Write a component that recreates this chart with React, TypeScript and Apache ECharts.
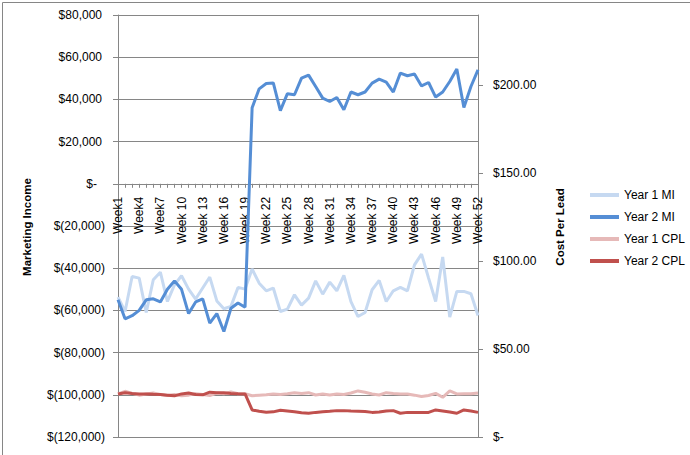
import React, { useEffect, useRef } from "react";
import * as echarts from "echarts";

const categories = [
  "Week1", "Week2", "Week3", "Week4", "Week5", "Week6", "Week7", "Week8", "Week9",
  "Week 10", "Week 11", "Week 12", "Week 13", "Week 14", "Week 15", "Week 16", "Week 17",
  "Week 18", "Week 19", "Week 20", "Week 21", "Week 22", "Week 23", "Week 24", "Week 25",
  "Week 26", "Week 27", "Week 28", "Week 29", "Week 30", "Week 31", "Week 32", "Week 33",
  "Week 34", "Week 35", "Week 36", "Week 37", "Week 38", "Week 39", "Week 40", "Week 41",
  "Week 42", "Week 43", "Week 44", "Week 45", "Week 46", "Week 47", "Week 48", "Week 49",
  "Week 50", "Week 51", "Week 52",
];

const year1MI = [
  -53700, -60500, -43900, -44700, -61000, -45500, -41900, -55800, -47900, -43600,
  -49900, -54600, -49400, -44200, -55500, -59200, -58100, -49100, -49900, -40400,
  -47100, -50700, -49400, -60500, -59400, -52600, -57500, -54200, -46000, -52300,
  -46600, -50700, -43400, -55800, -62900, -61000, -50200, -45800, -55800, -50700,
  -49100, -50700, -38400, -33300, -44700, -55800, -34700, -63200, -51000, -51000,
  -52100, -62400,
];

const year2MI = [
  -55000, -64000, -62500, -60000, -55000, -54500, -56000, -50000, -46000, -50000,
  -61500, -56000, -54500, -66000, -61500, -70000, -59000, -56500, -58500, 36000,
  45000, 47500, 47800, 34700, 42700, 42200, 50100, 51500, 46100, 40600,
  39000, 40900, 35100, 43500, 42200, 43500, 47700, 49600, 48200, 43500,
  52500, 51200, 52000, 46400, 48000, 41100, 43500, 48500, 54400, 36200,
  46100, 54000,
];

const year1CPL = [
  24.5, 26, 24.8, 23.8, 24.5, 25, 24.2, 23.6, 24.2, 23.4,
  23.8, 24.6, 24.2, 23.6, 25, 24.6, 25.6, 24.6, 24.6, 23.5,
  23.8, 24, 24.4, 24.2, 24.6, 25.2, 24.8, 25.2, 23.9, 24.5,
  23.9, 24.5, 24.2, 25, 26.2, 25.4, 24.5, 23.9, 25.2, 24.8,
  24.5, 24.5, 23.8, 23, 23.6, 24.8, 22.6, 26.2, 24.5, 24.6,
  24.6, 25,
];

const year2CPL = [
  24.5, 25.2, 24.8, 24.5, 24.5, 24.3, 24.2, 23.8, 23.4, 24.5,
  25, 24.2, 24, 25.5, 25.2, 25.2, 24.8, 24.6, 24.5, 15.4,
  14.6, 14.1, 14.3, 15.2, 14.8, 14.4, 13.8, 13.5, 14, 14.4,
  14.6, 15, 15, 14.8, 14.7, 14.5, 14, 14.2, 14.8, 15,
  13.5, 14, 14, 14, 14, 15.4, 14.8, 14.2, 13.5, 15.4,
  14.8, 14,
];

const cplTicks = [0, 50, 100, 150, 200];

const FONT = "'Liberation Sans', Arial, sans-serif";
const GRAY = "#868686";

const MI_MIN = -120000;
const MI_MAX = 80000;
const GRID_TOP = 15;
const GRID_BOTTOM = 18;
const PLOT_H = 455 - GRID_TOP - GRID_BOTTOM;

function fmtMI(v: number): string {
  if (v === 0) return "{z|$-}";
  const s = Math.abs(v).toLocaleString("en-US");
  if (v < 0) return "{n|$(" + s + ")}";
  return "{p|$" + s + "}";
}

function fmtCPL(v: number): string {
  if (v === 0) return "$-";
  return "$" + v.toFixed(2);
}

export default function App() {
  const ref = useRef<HTMLDivElement>(null);
  useEffect(() => {
    if (!ref.current) return;
    const chart = echarts.init(ref.current, null, { renderer: "svg" });
    const mk = (name: string, data: number[], color: string, axis: number) => ({
      name,
      type: "line",
      data,
      yAxisIndex: axis,
      symbol: "none",
      showSymbol: false,
      color,
      itemStyle: { color },
      lineStyle: { color, width: 3 },
    });
    // distance of the zero line above the plot bottom (category axis crosses at $0)
    const zeroOffset = -PLOT_H * (0 - MI_MIN) / (MI_MAX - MI_MIN);
    chart.setOption({
      animation: false,
      backgroundColor: "#ffffff",
      textStyle: { fontFamily: FONT },
      grid: { left: 118, right: 212, top: GRID_TOP, bottom: GRID_BOTTOM, containLabel: false },
      xAxis: {
        type: "category",
        data: categories,
        boundaryGap: false,
        position: "bottom",
        offset: zeroOffset,
        axisLine: { show: true, onZero: false, lineStyle: { color: GRAY, width: 1 } },
        axisTick: { show: true, interval: 0, length: 4, lineStyle: { color: GRAY } },
        axisLabel: { interval: 2, rotate: 90, margin: 13, color: "#000", fontSize: 12, fontFamily: FONT },
        splitLine: { show: false },
      },
      yAxis: [
        {
          type: "value",
          min: MI_MIN,
          max: MI_MAX,
          interval: 20000,
          axisLine: { show: true, lineStyle: { color: GRAY } },
          axisTick: { show: true, length: 5, lineStyle: { color: GRAY } },
          splitLine: { show: true, lineStyle: { color: GRAY, width: 1 } },
          axisLabel: {
            margin: 13,
            color: "#000",
            fontSize: 12,
            fontFamily: FONT,
            formatter: fmtMI,
            rich: {
              n: { fontSize: 12, fontFamily: FONT, color: "#000" },
              p: { fontSize: 12, fontFamily: FONT, color: "#000", padding: [0, 3, 0, 0] },
              z: { fontSize: 12, fontFamily: FONT, color: "#000", padding: [0, 8, 0, 0] },
            },
          },
        },
        {
          type: "value",
          position: "right",
          min: 0,
          max: 240,
          interval: 50,
          alignTicks: false,
          axisLine: { show: true, lineStyle: { color: GRAY } },
          axisTick: { show: true, length: 5, lineStyle: { color: GRAY }, customValues: cplTicks },
          splitLine: { show: false },
          axisLabel: {
            margin: 15,
            color: "#000",
            fontSize: 12,
            fontFamily: FONT,
            customValues: cplTicks,
            formatter: fmtCPL,
          },
        },
      ],
      legend: {
        orient: "vertical",
        left: 585,
        top: 184,
        itemWidth: 29,
        itemHeight: 4,
        itemGap: 10,
        icon: "rect",
        textStyle: { fontSize: 12, fontFamily: FONT, color: "#000" },
        data: ["Year 1 MI", "Year 2 MI", "Year 1 CPL", "Year 2 CPL"],
      },
      graphic: [
        {
          type: "rect",
          left: 0,
          top: 0,
          shape: { x: 0.5, y: 0.5, width: 688, height: 453 },
          style: { fill: "none", stroke: GRAY, lineWidth: 1 },
          silent: true,
        },
        {
          type: "text",
          x: 27,
          y: 227,
          rotation: Math.PI / 2,
          style: {
            text: "Marketing Income",
            fontSize: 11.5,
            fontWeight: "bold",
            fontFamily: FONT,
            fill: "#000",
            align: "center",
            verticalAlign: "middle",
          },
        },
        {
          type: "text",
          x: 560,
          y: 227,
          rotation: Math.PI / 2,
          style: {
            text: "Cost Per Lead",
            fontSize: 11.5,
            fontWeight: "bold",
            fontFamily: FONT,
            fill: "#000",
            align: "center",
            verticalAlign: "middle",
          },
        },
      ],
      series: [
        mk("Year 1 MI", year1MI, "#C6D9F1", 0),
        mk("Year 2 MI", year2MI, "#558ED5", 0),
        mk("Year 1 CPL", year1CPL, "#E6B9B8", 1),
        mk("Year 2 CPL", year2CPL, "#C0504D", 1),
      ],
    });
    return () => chart.dispose();
  }, []);
  return (
    <div
      ref={ref}
      style={{ position: "absolute", left: 0, top: 0, width: 690, height: 455 }}
    />
  );
}
